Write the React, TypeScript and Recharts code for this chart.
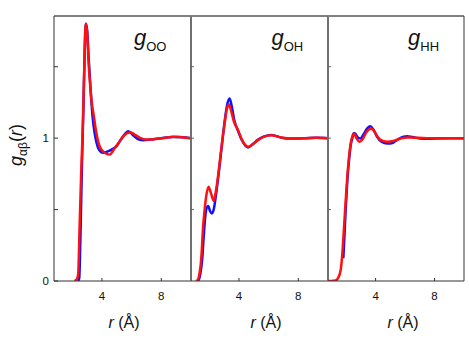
import { Line, LineChart, ReferenceLine, XAxis, YAxis } from "recharts";

// g_OO (panel 1)
const ooBlueR = [2.4, 2.47, 2.55, 2.65, 2.75, 2.85, 2.92, 3.0, 3.1, 3.2, 3.37, 3.5, 3.64, 3.8, 4.09, 4.43, 4.99, 5.4, 5.78, 6.1, 6.5, 6.8, 7.3, 8.0, 8.8, 9.4, 10];
const ooBlueG = [0, 0.02, 0.3, 0.8, 1.2, 1.65, 1.8, 1.76, 1.57, 1.4, 1.15, 1.04, 0.967, 0.92, 0.897, 0.909, 0.944, 1.01, 1.049, 1.02, 0.99, 0.985, 0.99, 1.0, 1.008, 1.006, 1.0];
const ooRedR = [2.15, 2.3, 2.4, 2.5, 2.6, 2.7, 2.8, 2.9, 3.0, 3.1, 3.2, 3.3, 3.46, 3.6, 3.76, 3.9, 4.1, 4.3, 4.54, 4.8, 5.0, 5.22, 5.5, 5.9, 6.2, 6.57, 6.9, 7.3, 7.8, 8.3, 8.8, 9.3, 9.7, 10];
const ooRedG = [0, 0.01, 0.05, 0.4, 0.75, 1.05, 1.45, 1.8, 1.74, 1.53, 1.38, 1.26, 1.15, 1.05, 0.97, 0.93, 0.905, 0.89, 0.886, 0.92, 0.95, 0.98, 1.02, 1.042, 1.025, 1.002, 0.99, 0.99, 0.997, 1.003, 1.01, 1.008, 1.002, 1.0];

// g_OH (panel 2)
const ohBlueR = [1.2, 1.3, 1.4, 1.52, 1.62, 1.72, 1.82, 1.93, 2.05, 2.18, 2.3, 2.45, 2.55, 2.69, 2.85, 3.03, 3.2, 3.37, 3.5, 3.7, 3.94, 4.2, 4.61, 4.9, 5.29, 5.7, 6.18, 6.86, 7.5, 8.5, 9.2, 10];
const ohBlueG = [0, 0.01, 0.05, 0.147, 0.3, 0.44, 0.51, 0.525, 0.49, 0.473, 0.5, 0.6, 0.68, 0.8, 0.95, 1.11, 1.23, 1.277, 1.23, 1.12, 1.05, 0.985, 0.935, 0.955, 0.99, 1.012, 1.022, 1.003, 0.997, 1.0, 1.003, 1.0];
const ohRedR = [1.1, 1.23, 1.32, 1.41, 1.5, 1.57, 1.68, 1.79, 1.95, 2.1, 2.31, 2.45, 2.55, 2.69, 2.85, 3.03, 3.18, 3.3, 3.45, 3.65, 3.94, 4.2, 4.61, 4.9, 5.29, 5.7, 6.18, 6.86, 7.5, 8.5, 9.2, 10];
const ohRedG = [0, 0.007, 0.04, 0.1, 0.22, 0.357, 0.49, 0.59, 0.66, 0.62, 0.56, 0.63, 0.7, 0.82, 0.96, 1.1, 1.2, 1.238, 1.2, 1.12, 1.056, 0.99, 0.94, 0.955, 0.986, 1.01, 1.021, 1.005, 0.998, 1.0, 1.003, 1.0];

// g_HH (panel 3)
const hhBlueR = [1.81, 1.88, 1.97, 2.08, 2.2, 2.31, 2.42, 2.51, 2.6, 2.75, 2.96, 3.2, 3.45, 3.64, 3.85, 4.1, 4.4, 4.79, 5.1, 5.5, 5.9, 6.14, 6.5, 7.0, 7.49, 8.0, 9.0, 10];
const hhBlueG = [0.159, 0.3, 0.5, 0.7, 0.85, 0.95, 1.0, 1.035, 1.035, 1.01, 0.998, 1.03, 1.07, 1.084, 1.06, 1.01, 0.975, 0.963, 0.965, 0.99, 1.01, 1.014, 1.008, 0.998, 0.995, 0.998, 1.0, 1.0];
const hhRedR = [0.8, 1.0, 1.29, 1.45, 1.63, 1.75, 1.86, 1.97, 2.08, 2.2, 2.31, 2.42, 2.54, 2.7, 2.92, 3.1, 3.4, 3.7, 3.9, 4.2, 4.5, 4.79, 5.2, 5.7, 6.14, 6.6, 7.49, 8.5, 10];
const hhRedG = [0, 0, 0.003, 0.02, 0.077, 0.2, 0.38, 0.56, 0.73, 0.87, 0.963, 1.01, 1.033, 1.0, 0.975, 0.99, 1.045, 1.068, 1.05, 1.0, 0.98, 0.975, 0.98, 0.997, 1.005, 1.003, 1.0, 1.0, 1.0];

const xTicks = [4, 8];
const yTicks = [0, 0.5, 1, 1.5];
const yLabels = [0, 1];
const panelSubs = ["OO", "OH", "HH"];

const FONT = "'Liberation Sans', Arial, sans-serif";
const X_DOMAIN = [0.77, 10];
const Y_DOMAIN = [0, 1.855];

interface Row {
  r: number;
  blue?: number;
  red?: number;
}

function merge(br: number[], bg: number[], rr: number[], rg: number[]): Row[] {
  const m = new Map<number, Row>();
  br.forEach((r, i) => {
    const row = m.get(r) ?? { r };
    row.blue = bg[i];
    m.set(r, row);
  });
  rr.forEach((r, i) => {
    const row = m.get(r) ?? { r };
    row.red = rg[i];
    m.set(r, row);
  });
  return Array.from(m.values()).sort((a, b) => a.r - b.r);
}

const panels = [
  merge(ooBlueR, ooBlueG, ooRedR, ooRedG),
  merge(ohBlueR, ohBlueG, ohRedR, ohRedG),
  merge(hhBlueR, hhBlueG, hhRedR, hhRedG),
];

function XTick({ x, y, payload }: any) {
  return (
    <g>
      <line x1={x} x2={x} y1={y} y2={y - 3} stroke="#333" />
      <text x={x} y={y + 19} textAnchor="middle" fontSize={11.5} fontFamily={FONT} fill="#111">
        {payload.value}
      </text>
    </g>
  );
}

function YTickFirst({ x, y, payload }: any) {
  return (
    <g>
      <line x1={x} x2={x + 4} y1={y} y2={y} stroke="#333" />
      {yLabels.includes(payload.value) && (
        <text x={x - 5} y={y + 4} textAnchor="end" fontSize={11.5} fontFamily={FONT} fill="#111">
          {payload.value}
        </text>
      )}
    </g>
  );
}

function YTickDivider({ x, y, payload }: any) {
  if (payload.value === 0) return <g />;
  return <line x1={x - 3} x2={x + 3} y1={y} y2={y} stroke="#666" />;
}

// plot areas: 54-191, 191-328, 328-464
const boxes = [
  { left: 0, width: 192, yw: 54, margin: { top: 16, right: 1, bottom: 0, left: 0 } },
  { left: 190, width: 139, yw: 1, margin: { top: 16, right: 1, bottom: 0, left: 0 } },
  { left: 327, width: 138, yw: 1, margin: { top: 16, right: 1, bottom: 0, left: 0 } },
];

export default function App() {
  return (
    <div style={{ position: "absolute", left: 0, top: 0, width: 469, height: 348, background: "#fff" }}>
      {panels.map((data, i) => (
        <div key={i} style={{ position: "absolute", left: boxes[i].left, top: 0 }}>
          <LineChart width={boxes[i].width} height={348} data={data} margin={boxes[i].margin}>
            <XAxis
              type="number"
              dataKey="r"
              domain={X_DOMAIN}
              ticks={xTicks}
              allowDataOverflow
              height={67}
              tickSize={0}
              tickMargin={0}
              tick={<XTick />}
              axisLine={{ stroke: "#333", strokeWidth: 1 }}
              tickLine={false}
            />
            <YAxis
              type="number"
              domain={Y_DOMAIN}
              ticks={yTicks}
              allowDataOverflow
              width={boxes[i].yw}
              tickSize={0}
              tickMargin={0}
              tick={i === 0 ? <YTickFirst /> : <YTickDivider />}
              tickLine={false}
              axisLine={i === 0 ? { stroke: "#333", strokeWidth: 1 } : false}
            />
            {i > 0 && <ReferenceLine x={X_DOMAIN[0]} stroke="#707070" strokeWidth={2} />}
            <ReferenceLine y={Y_DOMAIN[1]} stroke="#808080" strokeWidth={2} />
            {i === 2 && <ReferenceLine x={X_DOMAIN[1]} stroke="#333" strokeWidth={1} />}
            <Line
              type="monotone"
              dataKey="blue"
              stroke="#1010ff"
              strokeWidth={2.5}
              dot={false}
              connectNulls
              isAnimationActive={false}
            />
            <Line
              type="monotone"
              dataKey="red"
              stroke="#ff1010"
              strokeWidth={2.5}
              dot={false}
              connectNulls
              isAnimationActive={false}
            />
          </LineChart>
        </div>
      ))}
      <svg
        width={469}
        height={348}
        style={{ position: "absolute", left: 0, top: 0, pointerEvents: "none" }}
        fontFamily={FONT}
        fill="#111"
      >
        {panelSubs.map((s, i) => (
          <text key={s} x={[134, 271.5, 408][i]} y={45}>
            <tspan fontStyle="italic" fontSize={22}>g</tspan>
            <tspan fontSize={13} dy={6}>{s}</tspan>
          </text>
        ))}
        {[124, 266, 403].map((cx) => (
          <text key={cx} x={cx} y={328} textAnchor="middle" fontSize={16}>
            <tspan fontStyle="italic">r</tspan> (Å)
          </text>
        ))}
        <text x={22} y={145} textAnchor="middle" fontSize={18} transform="rotate(-90, 22, 145)">
          <tspan fontStyle="italic">g</tspan>
          <tspan fontSize={12} dy={5}>αβ</tspan>
          <tspan dy={-5}>(</tspan>
          <tspan fontStyle="italic">r</tspan>
          <tspan>)</tspan>
        </text>
      </svg>
    </div>
  );
}
